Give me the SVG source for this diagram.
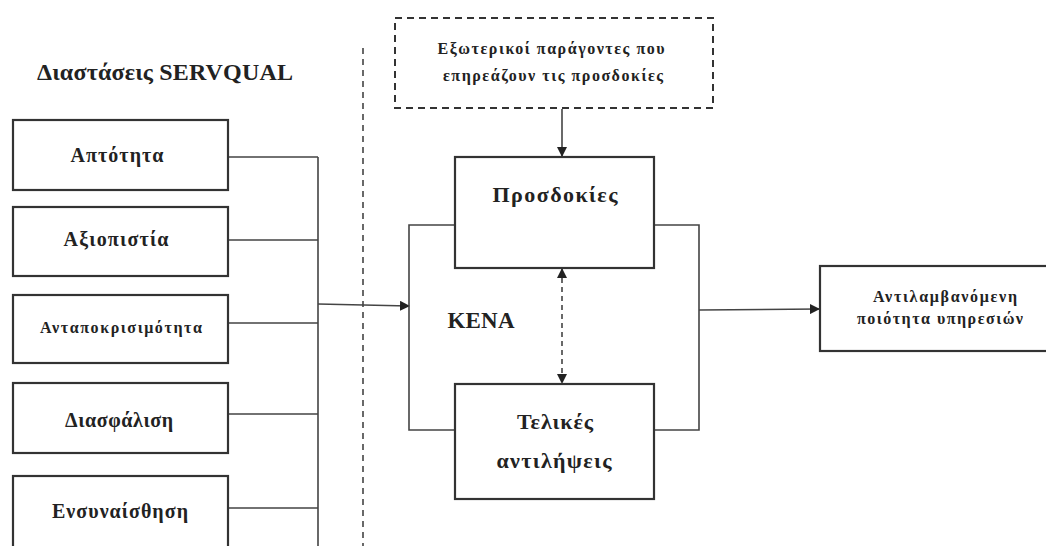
<svg xmlns="http://www.w3.org/2000/svg" width="1046" height="546" viewBox="0 0 1046 546">
<style>
.box{fill:#fff;stroke:#333;stroke-width:2.2}
.dbox{fill:#fff;stroke:#333;stroke-width:2;stroke-dasharray:7,5}
.ln{fill:none;stroke:#444;stroke-width:1.6}
.t{font-family:"Liberation Serif","DejaVu Serif",serif;font-weight:bold;fill:#222;text-anchor:middle}
</style>
<defs>
<marker id="ah" markerWidth="10" markerHeight="10" refX="9" refY="5" orient="auto-start-reverse" markerUnits="userSpaceOnUse">
<path d="M0,0 L10,5 L0,10 z" fill="#222"/>
</marker>
</defs>
<rect width="1046" height="546" fill="#fff"/>
<text class="t" x="165" y="80" font-size="24" textLength="256" lengthAdjust="spacing">Διαστάσεις SERVQUAL</text>
<g id="connectors">
<line class="ln" x1="363" y1="48" x2="363" y2="546" stroke-dasharray="6,5" stroke-width="2"/>
<path class="ln" d="M228,157 H318 M228,240 H318 M228,323 H318 M228,414 H318 M228,508 H318 M318,157 V546"/>
<line class="ln" x1="318" y1="304" x2="409" y2="306" stroke-width="2" marker-end="url(#ah)"/>
<line class="ln" x1="562" y1="109" x2="562" y2="156" stroke-width="2" marker-end="url(#ah)"/>
<path class="ln" d="M455,225 H409 V430 H455 M654,225 H699 V430 H654"/>
<line class="ln" x1="562" y1="269" x2="562" y2="383" stroke-width="2" stroke-dasharray="5,4" marker-start="url(#ah)" marker-end="url(#ah)"/>
<line class="ln" x1="699" y1="310" x2="819" y2="309" stroke-width="2" marker-end="url(#ah)"/>
</g>
<g id="n1"><rect class="box" x="13" y="120" width="215" height="70"/><text class="t" x="117" y="162" font-size="20" textLength="93" lengthAdjust="spacing">Απτότητα</text></g>
<g id="n2"><rect class="box" x="13" y="207" width="215" height="69"/><text class="t" x="116" y="246" font-size="20" textLength="105" lengthAdjust="spacing">Αξιοπιστία</text></g>
<g id="n3"><rect class="box" x="13" y="295" width="215" height="68"/><text class="t" x="121" y="333" font-size="16" textLength="162" lengthAdjust="spacing">Ανταποκρισιμότητα</text></g>
<g id="n4"><rect class="box" x="13" y="383" width="215" height="70"/><text class="t" x="119" y="427" font-size="20" textLength="108" lengthAdjust="spacing">Διασφάλιση</text></g>
<g id="n5"><rect class="box" x="13" y="476" width="215" height="80"/><text class="t" x="120" y="518" font-size="20" textLength="136" lengthAdjust="spacing">Ενσυναίσθηση</text></g>
<g id="ext"><rect class="dbox" x="395" y="18" width="318" height="90"/><text class="t" x="551" y="54" font-size="16" textLength="227" lengthAdjust="spacing">Εξωτερικοί παράγοντες που</text><text class="t" x="553" y="81" font-size="16" textLength="220" lengthAdjust="spacing">επηρεάζουν τις προσδοκίες</text></g>
<g id="exp"><rect class="box" x="455" y="157" width="199" height="111"/><text class="t" x="555" y="202" font-size="22" textLength="125" lengthAdjust="spacing">Προσδοκίες</text></g>
<g id="kena"><text class="t" x="481" y="328" font-size="23" textLength="67" lengthAdjust="spacing">KENA</text></g>
<g id="perc"><rect class="box" x="455" y="384" width="199" height="115"/><text class="t" x="555" y="429" font-size="22" textLength="76" lengthAdjust="spacing">Τελικές</text><text class="t" x="554" y="468" font-size="22" textLength="115" lengthAdjust="spacing">αντιλήψεις</text></g>
<g id="out"><rect class="box" x="820" y="266" width="240" height="85"/><text class="t" x="945" y="302" font-size="16" textLength="144" lengthAdjust="spacing">Αντιλαμβανόμενη</text><text class="t" x="940" y="324" font-size="16" textLength="166" lengthAdjust="spacing">ποιότητα υπηρεσιών</text></g>
</svg>
